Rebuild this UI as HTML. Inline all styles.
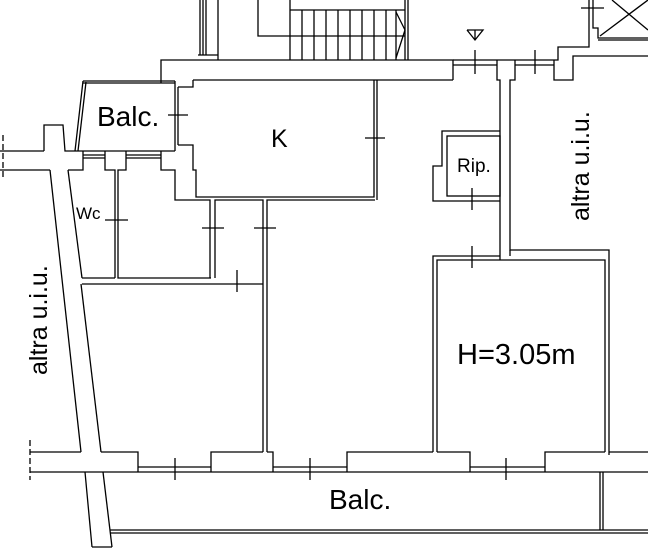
<!DOCTYPE html>
<html><head><meta charset="utf-8"><style>
html,body{margin:0;padding:0;background:#fff}
svg{display:block}
text{font-family:"Liberation Sans",sans-serif;fill:#000}
</style></head><body>
<svg width="648" height="549" viewBox="0 0 648 549" xmlns="http://www.w3.org/2000/svg">
<g fill="none" stroke="#000" stroke-width="1.3">
<line x1="200" y1="0" x2="200" y2="55"/><line x1="203" y1="0" x2="203" y2="55"/><line x1="206" y1="0" x2="206" y2="55"/>
<line x1="198" y1="55" x2="218" y2="55"/>
<line x1="218" y1="0" x2="218" y2="60"/>
<polyline points="258,0 258,36 290,36"/>
<line x1="290" y1="0" x2="290" y2="60"/>
<line x1="290" y1="10" x2="405" y2="10"/>
<line x1="290" y1="36" x2="405" y2="36"/>
<line x1="302" y1="10" x2="302" y2="60"/><line x1="314" y1="10" x2="314" y2="60"/><line x1="326" y1="10" x2="326" y2="60"/><line x1="338" y1="10" x2="338" y2="60"/><line x1="350" y1="10" x2="350" y2="60"/><line x1="362" y1="10" x2="362" y2="60"/><line x1="374" y1="10" x2="374" y2="60"/><line x1="386" y1="10" x2="386" y2="60"/><line x1="396" y1="10" x2="396" y2="60"/>
<polyline points="396,12 405,30 396,58"/>
<line x1="405" y1="0" x2="405" y2="60"/><line x1="408" y1="0" x2="408" y2="60"/>
<polyline points="161,80 161,60 453,60 453,80"/>
<line x1="453" y1="60" x2="497" y2="60"/><line x1="453" y1="65" x2="497" y2="65"/>
<polyline points="497,60 497,80 500,80 500,260"/>
<polyline points="515,60 515,80 510,80 510,250 609,250 609,455"/>
<line x1="497" y1="60" x2="515" y2="60"/>
<line x1="515" y1="60" x2="554" y2="60"/><line x1="515" y1="65" x2="554" y2="65"/>
<polyline points="554,60 554,80 573,80 573,56 648,56"/>
<polyline points="554,60 558,60 558,47 589,47 589,0"/>
<polyline points="593,0 593,28 598,28 598,38 648,38"/>
<line x1="598" y1="40" x2="648" y2="40"/>
<polyline points="612,0 648,30"/><polyline points="648,0 600,36"/>
<polyline points="83,81 175,81"/><polyline points="83,83 175,83"/>
<line x1="83" y1="81" x2="75" y2="151"/><line x1="86" y1="82" x2="78" y2="151"/>
<polyline points="161,80 161,83"/>
<line x1="175" y1="81" x2="175" y2="151"/><line x1="178" y1="87" x2="178" y2="145"/>
<line x1="75" y1="151" x2="175" y2="151"/>
<line x1="83" y1="155" x2="105" y2="155"/><line x1="83" y1="158" x2="105" y2="158"/>
<line x1="126" y1="155" x2="161" y2="155"/><line x1="126" y1="158" x2="161" y2="158"/>
<polyline points="83,151 83,170 68,170"/>
<polyline points="105,151 105,170 115,170 115,278"/>
<polyline points="126,151 126,170 118,170 118,278 211,278"/>
<polyline points="161,151 161,170 175,170 175,200 210,200 210,278"/>
<polyline points="215,278 215,200 263,200 263,452"/>
<polyline points="267,452 267,200 375,200"/>
<polyline points="193,80 193,87 178,87"/>
<polyline points="178,145 193,145 193,170 196,170 196,197 374,197 374,80"/>
<line x1="193" y1="80" x2="453" y2="80"/>
<polyline points="377,80 377,200"/>
<line x1="0" y1="151" x2="44" y2="151"/><line x1="0" y1="170" x2="50" y2="170"/>
<line x1="3" y1="135" x2="3" y2="180" stroke-dasharray="6,3"/>
<polyline points="44,151 44,125 63,125 65,151 75,151"/>
<line x1="50" y1="170" x2="81" y2="452"/>
<line x1="68" y1="170" x2="82" y2="278"/>
<line x1="82" y1="284" x2="263" y2="284"/>
<line x1="81" y1="284" x2="101" y2="452"/>
<line x1="82" y1="278" x2="115" y2="278"/>
<line x1="85" y1="472" x2="92" y2="547"/><line x1="103" y1="472" x2="112" y2="547"/>
<line x1="92" y1="547" x2="112" y2="547"/>
<polyline points="500,131 442,131 442,166 433,166 433,201 500,201"/>
<rect x="447" y="136" width="53" height="60"/>
<polyline points="500,256 433,256 433,452"/>
<polyline points="500,260 437,260 437,452"/>
<polyline points="510,250 510,256"/>
<polyline points="500,260 605,260 605,452"/>
<line x1="30" y1="452" x2="81" y2="452"/>
<line x1="30" y1="472" x2="648" y2="472"/>
<line x1="30" y1="440" x2="30" y2="480" stroke-dasharray="6,3"/>
<polyline points="101,452 138,452 138,472"/>
<line x1="138" y1="467" x2="211" y2="467"/>
<polyline points="211,472 211,452 263,452"/>
<polyline points="267,452 273,452 273,472"/>
<line x1="273" y1="467" x2="347" y2="467"/>
<polyline points="347,472 347,452 433,452"/>
<polyline points="437,452 470,452 470,472"/>
<line x1="470" y1="467" x2="545" y2="467"/>
<polyline points="545,472 545,452 605,452"/>
<polyline points="609,452 648,452"/>
<line x1="110" y1="530" x2="648" y2="530"/><line x1="110" y1="533" x2="648" y2="533"/>
<line x1="600" y1="472" x2="600" y2="530"/><line x1="603" y1="472" x2="603" y2="530"/>
<line x1="168" y1="115" x2="188" y2="115"/>
<line x1="365" y1="138" x2="385" y2="138"/>
<line x1="105" y1="220" x2="128" y2="220"/>
<line x1="202" y1="228" x2="224" y2="228"/>
<line x1="254" y1="228" x2="276" y2="228"/>
<line x1="237" y1="270" x2="237" y2="292"/>
<line x1="472" y1="188" x2="472" y2="210"/>
<line x1="472" y1="246" x2="472" y2="268"/>
<line x1="475" y1="50" x2="475" y2="74"/>
<line x1="535" y1="50" x2="535" y2="74"/>
<line x1="581" y1="8" x2="604" y2="8"/>
<line x1="175" y1="458" x2="175" y2="480"/>
<line x1="310" y1="458" x2="310" y2="480"/>
<line x1="506" y1="458" x2="506" y2="480"/>
<polyline points="467,30 483,30 475,40 467,30"/>
<line x1="475" y1="30" x2="475" y2="40"/>
</g>
<text x="97" y="126" font-size="28">Balc.</text>
<text x="271" y="147" font-size="25">K</text>
<text x="457" y="172" font-size="19">Rip.</text>
<text x="76" y="219" font-size="17">Wc</text>
<text x="457" y="364" font-size="29">H=3.05m</text>
<text x="329" y="509" font-size="28">Balc.</text>
<text transform="translate(589,221) rotate(-90)" font-size="25">altra u.i.u.</text>
<text transform="translate(47,375) rotate(-90)" font-size="25">altra u.i.u.</text>
</svg>
</body></html>
